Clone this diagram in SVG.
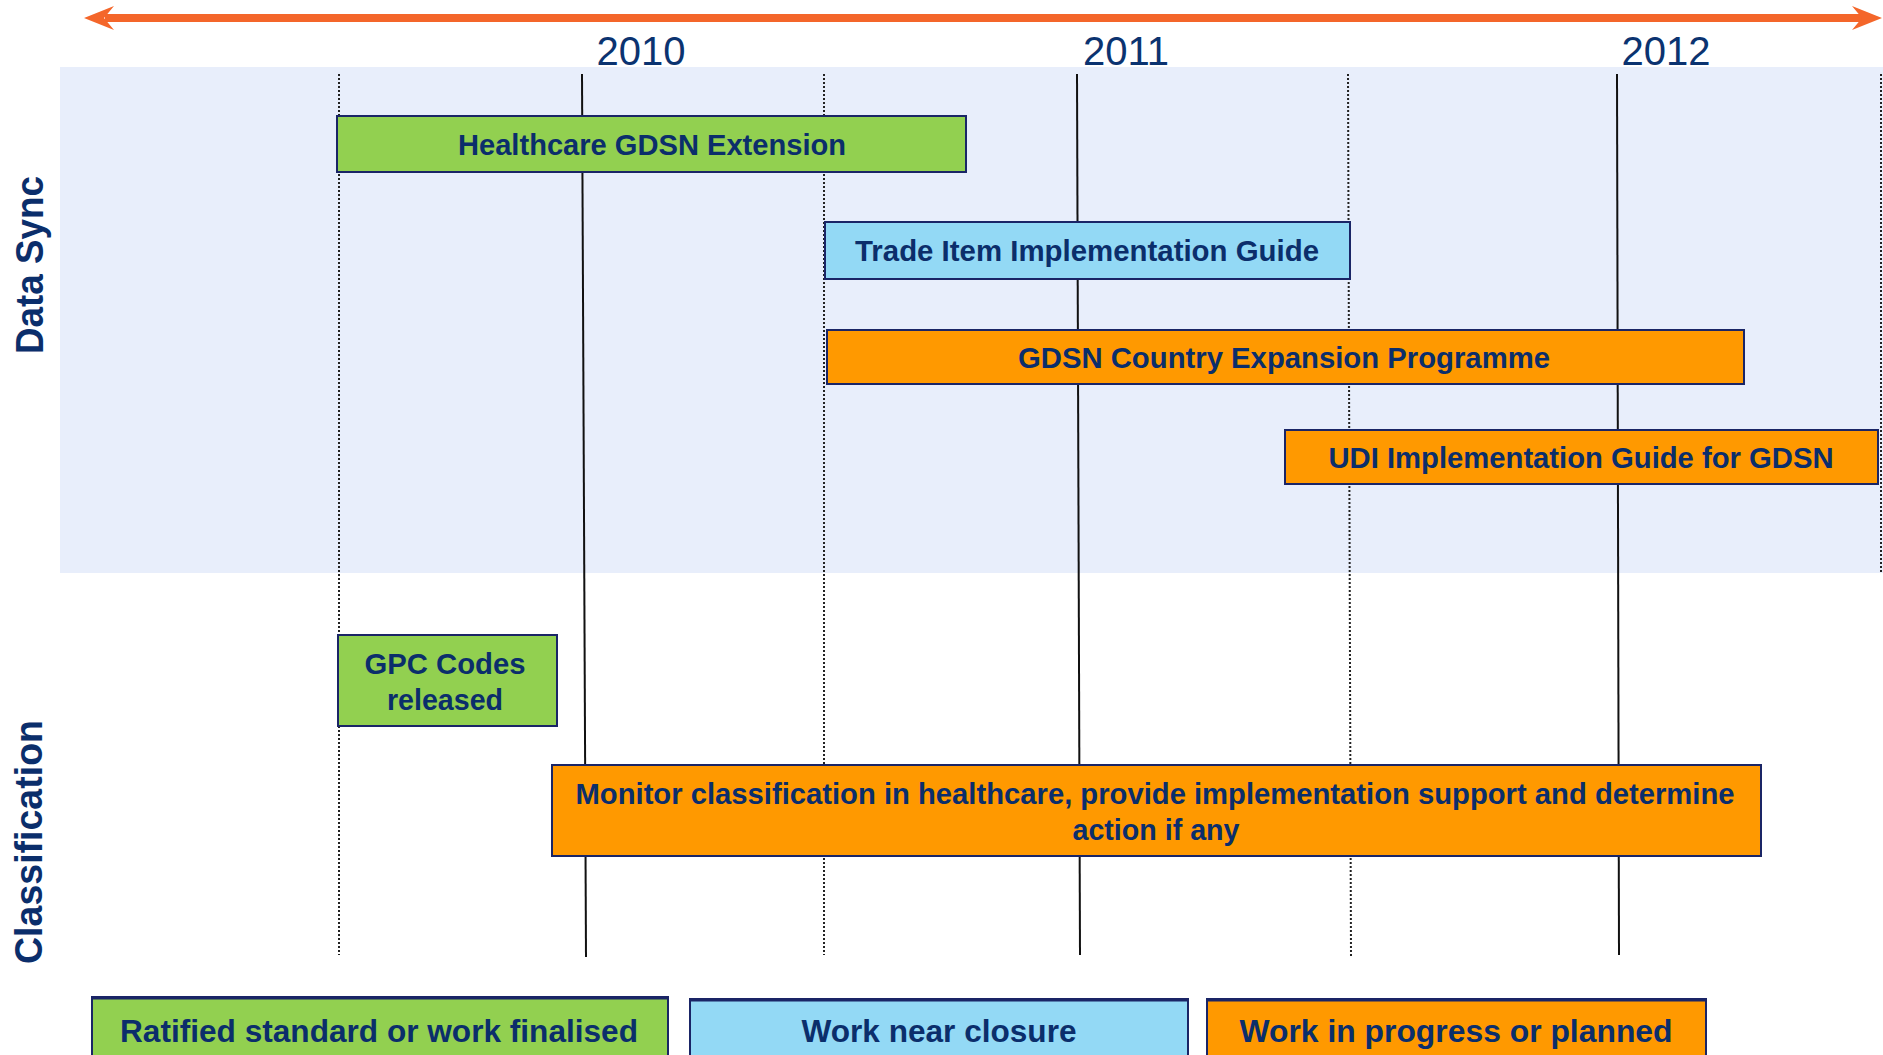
<svg xmlns="http://www.w3.org/2000/svg" width="1883" height="1055" viewBox="0 0 1883 1055">
  <style>
    .lbl { font-family: "Liberation Sans", Arial, sans-serif; font-weight: bold; fill: #0B2E6B; text-anchor: middle; }
    .year { font-family: "Liberation Sans", Arial, sans-serif; font-size: 40px; fill: #0B3370; text-anchor: middle; }
    .box { stroke: #1A2566; stroke-width: 2; }
    .green { fill: #92D050; }
    .blue { fill: #93D9F5; }
    .orange { fill: #FF9900; }
    .solid { stroke: #111111; stroke-width: 2; fill: none; }
    .dotted { stroke: #222222; stroke-width: 2; stroke-dasharray: 2 2; fill: none; }
  </style>
  <rect x="0" y="0" width="1883" height="1055" fill="#FFFFFF"/>
  <!-- Data Sync panel -->
  <rect id="panel" x="60" y="67" width="1823" height="506" fill="#E8EEFB"/>

  <!-- timeline arrow -->
  <g id="timeline">
    <line x1="105" y1="18" x2="1862" y2="18" stroke="#F4662A" stroke-width="8"/>
    <polygon points="84,18 114,6 104,18 114,30" fill="#F4662A"/>
    <polygon points="1882,18 1852,6 1862,18 1852,30" fill="#F4662A"/>
    <text class="year" x="641" y="65">2010</text>
    <text class="year" x="1126" y="65">2011</text>
    <text class="year" x="1666" y="65">2012</text>
  </g>

  <!-- grid lines -->
  <g id="connectors">
    <line class="dotted" x1="339" y1="74" x2="339" y2="955"/>
    <line class="solid" x1="582" y1="74" x2="586" y2="957"/>
    <line class="dotted" x1="824" y1="74" x2="824" y2="955"/>
    <line class="solid" x1="1077" y1="74" x2="1080" y2="955"/>
    <line class="dotted" x1="1348" y1="74" x2="1351" y2="957"/>
    <line class="solid" x1="1617" y1="74" x2="1619" y2="955"/>
    <line class="dotted" x1="1881" y1="74" x2="1881" y2="573"/>
  </g>

  <!-- lane labels -->
  <g id="lane-datasync">
    <text class="lbl" transform="translate(43,265) rotate(-90)" x="0" y="0" font-size="39" textLength="178" lengthAdjust="spacingAndGlyphs">Data Sync</text>
  </g>
  <g id="lane-classification">
    <text class="lbl" transform="translate(42,842) rotate(-90)" x="0" y="0" font-size="39" textLength="244" lengthAdjust="spacingAndGlyphs">Classification</text>
  </g>

  <!-- Data Sync items -->
  <g id="healthcare-gdsn-extension">
    <rect class="box green" x="337" y="116" width="629" height="56"/>
    <text class="lbl" x="652" y="155" font-size="30" textLength="388" lengthAdjust="spacingAndGlyphs">Healthcare GDSN Extension</text>
  </g>
  <g id="trade-item-guide">
    <rect class="box blue" x="825" y="222" width="525" height="57"/>
    <text class="lbl" x="1087" y="261" font-size="30" textLength="464" lengthAdjust="spacingAndGlyphs">Trade Item Implementation Guide</text>
  </g>
  <g id="gdsn-country-expansion">
    <rect class="box orange" x="827" y="330" width="917" height="54"/>
    <text class="lbl" x="1284" y="368" font-size="30" textLength="532" lengthAdjust="spacingAndGlyphs">GDSN Country Expansion Programme</text>
  </g>
  <g id="udi-guide">
    <rect class="box orange" x="1285" y="430" width="593" height="54"/>
    <text class="lbl" x="1581" y="468" font-size="30" textLength="505" lengthAdjust="spacingAndGlyphs">UDI Implementation Guide for GDSN</text>
  </g>

  <!-- Classification items -->
  <g id="gpc-codes">
    <rect class="box green" x="338" y="635" width="219" height="91"/>
    <text class="lbl" x="445" y="674" font-size="30" textLength="161" lengthAdjust="spacingAndGlyphs">GPC Codes</text>
    <text class="lbl" x="445" y="710" font-size="30" textLength="116" lengthAdjust="spacingAndGlyphs">released</text>
  </g>
  <g id="monitor-classification">
    <rect class="box orange" x="552" y="765" width="1209" height="91"/>
    <text class="lbl" x="1155" y="804" font-size="30" textLength="1159" lengthAdjust="spacingAndGlyphs">Monitor classification in healthcare, provide implementation support and determine</text>
    <text class="lbl" x="1156" y="840" font-size="30" textLength="167" lengthAdjust="spacingAndGlyphs">action if any</text>
  </g>

  <!-- Legend -->
  <g id="legend-ratified">
    <rect class="box green" x="92" y="997" width="576" height="70"/>
    <line x1="92" y1="998" x2="668" y2="998" stroke="#1A2566" stroke-width="3"/>
    <text class="lbl" x="379" y="1042" font-size="32" textLength="518" lengthAdjust="spacingAndGlyphs">Ratified standard or work finalised</text>
  </g>
  <g id="legend-near-closure">
    <rect class="box blue" x="690" y="999" width="498" height="70"/>
    <line x1="690" y1="1000" x2="1188" y2="1000" stroke="#1A2566" stroke-width="3"/>
    <text class="lbl" x="939" y="1042" font-size="32" textLength="275" lengthAdjust="spacingAndGlyphs">Work near closure</text>
  </g>
  <g id="legend-in-progress">
    <rect class="box orange" x="1207" y="999" width="499" height="70"/>
    <line x1="1207" y1="1000" x2="1706" y2="1000" stroke="#1A2566" stroke-width="3"/>
    <text class="lbl" x="1456" y="1042" font-size="32" textLength="433" lengthAdjust="spacingAndGlyphs">Work in progress or planned</text>
  </g>
</svg>
